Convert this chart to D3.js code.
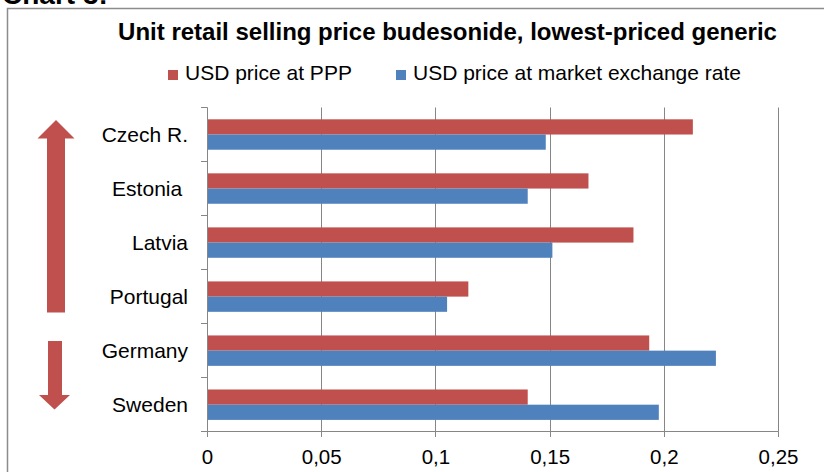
<html>
<head>
<title>Budesonide prices</title>
<style>
body {
	margin: 0;
	background: #fff;
	font-family: 'Liberation Sans', Arial, sans-serif;
}
svg {
	display: block;
}
text {
	white-space: pre;
}
</style>
</head>
<body>
<svg width="824" height="472"></svg>
<script src="https://d3js.org/d3.v7.min.js"></script>
<script>
// chart values
let countries = ["Czech R.", "Estonia ", "Latvia", "Portugal", "Germany", "Sweden"];
let seriesNames = ["USD price at PPP", "USD price at market exchange rate"];
let pppPrice = [0.2125, 0.1668, 0.1865, 0.1142, 0.1934, 0.1402];
let marketPrice = [0.1481, 0.1402, 0.1510, 0.1049, 0.2226, 0.1976];
let xTicks = [0, 0.05, 0.1, 0.15, 0.2, 0.25];
let colours = ["#C0504D", "#4F81BD"];

let svg = d3.select("svg");
let gridColour = "#868686";

// comma as decimal mark
let fmt = d3.formatLocale({decimal: ",", thousands: ".", grouping: [3], currency: ["", ""]}).format("~g");

// outer frame and the clipped heading above it (cut off in the original too)
svg.append("text")
	.attr("x", 2).attr("y", 4)
	.attr("font-size", "28px").attr("font-weight", "bold")
	.text("Chart 3:");
svg.append("path")
	.attr("d", "M7.5,480 V8.5 H830")
	.attr("fill", "none")
	.attr("stroke", "#8c8c8c")
	.attr("stroke-width", 1.5);

// scales
let x = d3.scaleLinear().domain([0, 0.25]).range([207.5, 778.5]);
let y = d3.scaleBand().domain(countries).range([107.5, 431.7]).padding(0);
let ySeries = d3.scaleBand().domain([0, 1]).range([0, y.bandwidth()]).paddingInner(0).paddingOuter(0.777);
let px = function(v) { return Math.floor(x(v)) + 0.5; };

// vertical grid lines
svg.append("g").selectAll("line")
	.data(xTicks.slice(1))
	.enter().append("line")
	.attr("x1", px).attr("x2", px)
	.attr("y1", 107.5).attr("y2", 431.5)
	.attr("stroke", gridColour);

// bars
let rows = countries.map(function(c, i) {
	return {country: c, values: [pppPrice[i], marketPrice[i]]};
});
let groups = svg.append("g").selectAll("g")
	.data(rows)
	.enter().append("g")
	.attr("transform", function(d) { return "translate(0," + y(d.country) + ")"; });
groups.selectAll("rect")
	.data(function(d) { return d.values; })
	.enter().append("rect")
	.attr("x", x(0))
	.attr("y", function(d, i) { return ySeries(i); })
	.attr("width", function(d) { return x(d) - x(0); })
	.attr("height", ySeries.bandwidth())
	.attr("fill", function(d, i) { return colours[i]; });

// category axis
let yAxis = svg.append("g");
yAxis.append("line")
	.attr("x1", 207.5).attr("x2", 207.5)
	.attr("y1", 107.5).attr("y2", 431.5)
	.attr("stroke", gridColour);
let yEdges = countries.map(function(c) { return y(c); }).concat([y.range()[1]]);
yAxis.selectAll(".tick")
	.data(yEdges)
	.enter().append("line")
	.attr("x1", 201).attr("x2", 207.5)
	.attr("y1", function(d) { return Math.floor(d) + 0.5; })
	.attr("y2", function(d) { return Math.floor(d) + 0.5; })
	.attr("stroke", gridColour);
yAxis.selectAll("text")
	.data(countries)
	.enter().append("text")
	.attr("x", 188)
	.attr("y", function(d) { return y(d) + y.bandwidth() / 2; })
	.attr("dy", "0.35em")
	.attr("text-anchor", "end")
	.attr("font-size", "21px")
	.attr("fill", "#000")
	.text(function(d) { return d; });

// value axis
let xAxis = svg.append("g");
xAxis.append("line")
	.attr("x1", 207.5).attr("x2", 778.5)
	.attr("y1", 431.5).attr("y2", 431.5)
	.attr("stroke", gridColour);
xAxis.selectAll(".tick")
	.data(xTicks)
	.enter().append("line")
	.attr("x1", px).attr("x2", px)
	.attr("y1", 431.5).attr("y2", 437)
	.attr("stroke", gridColour);
xAxis.selectAll("text")
	.data(xTicks)
	.enter().append("text")
	.attr("x", function(d) { return x(d); })
	.attr("y", 464)
	.attr("text-anchor", "middle")
	.attr("font-size", "20.5px")
	.attr("fill", "#000")
	.text(fmt);

// title
svg.append("text")
	.attr("x", 447.5).attr("y", 40)
	.attr("text-anchor", "middle")
	.attr("font-size", "24px").attr("font-weight", "bold")
	.text("Unit retail selling price budesonide, lowest-priced generic");

// legend
let legendX = [168, 396];
let legend = svg.append("g").selectAll("g")
	.data(seriesNames)
	.enter().append("g")
	.attr("transform", function(d, i) { return "translate(" + legendX[i] + ",0)"; });
legend.append("rect")
	.attr("x", 0).attr("y", 70)
	.attr("width", 10).attr("height", 10)
	.attr("fill", function(d, i) { return colours[i]; });
legend.append("text")
	.attr("x", 17).attr("y", 80)
	.attr("font-size", "21px")
	.text(function(d) { return d; });

// direction arrows
svg.append("path")
	.attr("d", "M56,120 L74.5,138.5 L65,138.5 L65,312.5 L47,312.5 L47,138.5 L37.5,138.5 Z")
	.attr("fill", colours[0]);
svg.append("path")
	.attr("d", "M48,341 L62,341 L62,395 L70,395 L54.5,409.5 L39,395 L48,395 Z")
	.attr("fill", colours[0]);
</script>
</body>
</html>
